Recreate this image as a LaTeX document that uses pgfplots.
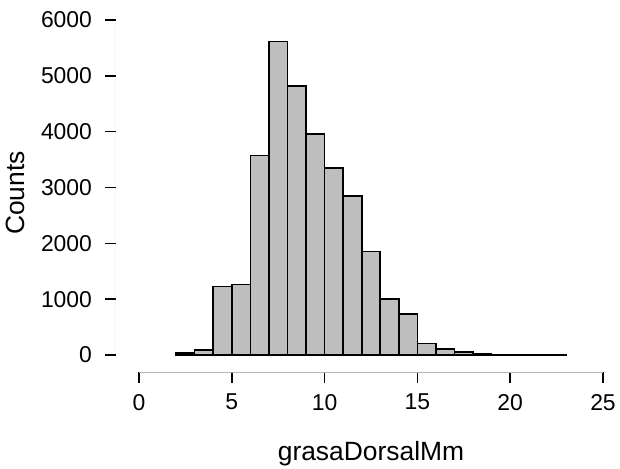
\documentclass[border=0pt]{standalone}
\usepackage{pgfplots}
\pgfplotsset{compat=1.18}
\usepackage{fontspec}
\setmainfont{Liberation Sans}
\definecolor{barGray}{HTML}{BEBEBE}
\definecolor{axisGray}{HTML}{B4B4B4}

\begin{document}
\begin{tikzpicture}
\useasboundingbox (-116bp,-97bp) rectangle (504bp,372bp);
\begin{axis}[
  at={(0,0)}, anchor=south west,
  scale only axis, width=487bp, height=352bp,
  xmin=-1.24, xmax=25, ymin=-305, ymax=6000,
  axis x line=bottom, axis y line=left,
  axis line style={draw=none,-},
  xtick={0,5,...,25}, ytick={0,1000,...,6000},
  tick align=outside, major tick length=10.5bp,
  tick style={black, line width=1.5bp},
  /pgf/number format/assume math mode=true,
  /pgf/number format/1000 sep={},
  scaled y ticks=false,
  xticklabel style={font=\fontsize{23}{27}\selectfont, yshift=-8bp},
  yticklabel style={font=\fontsize{23}{27}\selectfont, xshift=-10bp},
  xlabel={grasaDorsalMm},
  ylabel={Counts},
  x label style={at={(axis description cs:0.5236,-0.25)}, anchor=base,
                 font=\fontsize{26.5}{30}\selectfont},
  y label style={at={(axis description cs:-0.1869,0.5085)}, anchor=base,
                 font=\fontsize{26.5}{30}\selectfont},
]
\addplot[ybar interval, fill=barGray, draw=black, line width=1.6bp]
  coordinates {
  (2,40) (3,90) (4,1230) (5,1260) (6,3570) (7,5615) (8,4820) (9,3960)
  (10,3345) (11,2850) (12,1850) (13,1000) (14,730) (15,205) (16,110)
  (17,50) (18,25) (19,12) (20,6) (21,3) (22,2) (23,2)
  };
\draw[axisGray, line width=1bp] (axis cs:-1.24,0) -- (axis cs:-1.24,6000);
\draw[axisGray, line width=1bp] (axis cs:0,-305) -- (axis cs:25,-305);
\end{axis}
\end{tikzpicture}
\end{document}
